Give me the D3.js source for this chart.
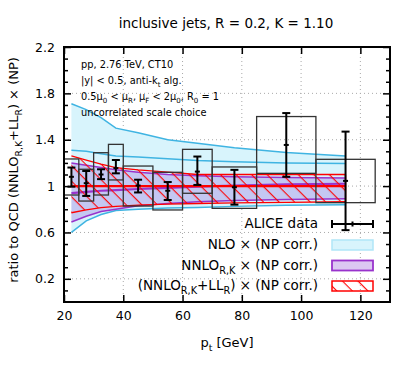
<!DOCTYPE html>
<html>
<head>
<meta charset="utf-8">
<script src="https://cdn.jsdelivr.net/npm/d3@7"></script>
<style>
body{margin:0;background:#fff;}
text{font-family:"DejaVu Sans",sans-serif;fill:#000;}
</style>
</head>
<body>
<svg width="415" height="368"></svg>
<script>
// ALICE bins (pt in GeV)
var binLo = [20, 25, 30, 35, 40, 50, 60, 70, 85, 105];
var binHi = [25, 30, 35, 40, 50, 60, 70, 85, 105, 125];
var ptCenter = [22.5, 27.5, 32.5, 37.5, 45, 55, 65, 77.5, 95, 115];

// data / theory ratio, stat and sys errors
var aliceVal = [1.08, 1.025, 1.10, 1.155, 1.005, 0.96, 1.125, 0.99, 1.355, 1.045];
var aliceStatLo = [0.995, 0.915, 1.06, 1.11, 0.945, 0.88, 1.01, 0.84, 1.08, 0.62];
var aliceStatHi = [1.16, 1.13, 1.145, 1.225, 1.055, 1.035, 1.255, 1.14, 1.63, 1.47];
var aliceSysLo = [0.923, 0.871, 0.923, 1.053, 0.828, 0.794, 0.938, 0.808, 1.11, 0.857];
var aliceSysHi = [1.234, 1.145, 1.288, 1.36, 1.173, 1.119, 1.317, 1.165, 1.60, 1.231];

// NLO x NP
var nloUp = [1.71, 1.66, 1.59, 1.50, 1.46, 1.40, 1.37, 1.33, 1.29, 1.26];
var nloMid = [1.31, 1.30, 1.28, 1.26, 1.25, 1.235, 1.22, 1.21, 1.20, 1.195];
var nloLo = [0.60, 0.70, 0.755, 0.79, 0.80, 0.81, 0.815, 0.825, 0.835, 0.84];

// NNLO_R,K x NP
var nnloUp = [1.20, 1.18, 1.16, 1.14, 1.12, 1.10, 1.09, 1.08, 1.075, 1.07];
var nnloMid = [0.94, 0.95, 0.96, 0.965, 0.975, 0.985, 0.995, 1.005, 1.015, 1.02];
var nnloLo = [0.69, 0.74, 0.78, 0.80, 0.83, 0.85, 0.865, 0.875, 0.885, 0.89];

// (NNLO_R,K + LL_R) x NP
var resUp = [1.26, 1.225, 1.19, 1.16, 1.14, 1.12, 1.10, 1.10, 1.10, 1.10];
var resMid = [1, 1, 1, 1, 1, 1, 1, 1, 1, 1];
var resLo = [0.77, 0.795, 0.815, 0.825, 0.835, 0.845, 0.85, 0.855, 0.86, 0.865];

var xTicks = [20, 40, 60, 80, 100, 120];
var yTicks = [0.2, 0.6, 1, 1.4, 1.8, 2.2];
var yMinor = [0.1, 0.3, 0.4, 0.5, 0.7, 0.8, 0.9, 1.1, 1.2, 1.3, 1.5, 1.6, 1.7, 1.9, 2.0, 2.1];

var svg = d3.select("svg");
var x = d3.scaleLinear().domain([20, 130]).range([64, 390]);
var y = d3.scaleLinear().domain([0, 2.2]).range([302, 47]);

function rich(sel, parts, fs){
	var wasSub = false;
	parts.forEach(function(p){
		var t = sel.append("tspan").text(p[0]);
		if(p[1]){
			t.attr("font-size", fs*0.72).attr("dy", wasSub ? 0 : fs*0.3);
			wasSub = true;
		} else {
			if(wasSub) t.attr("dy", -fs*0.3);
			wasSub = false;
		}
	});
}

var defs = svg.append("defs");
defs.append("pattern")
	.attr("id", "hatch")
	.attr("patternUnits", "userSpaceOnUse")
	.attr("width", 10).attr("height", 11)
	.attr("patternTransform", "rotate(45)")
	.append("line")
	.attr("x1", 0).attr("y1", 0.6).attr("x2", 10).attr("y2", 0.6)
	.style("stroke", "#ff0000").style("stroke-width", 1.1);

// grid
var grid = svg.append("g");
grid.selectAll(".gx").data(xTicks.slice(1)).enter().append("line")
	.attr("x1", function(d){ return x(d); }).attr("x2", function(d){ return x(d); })
	.attr("y1", y(0)).attr("y2", y(2.2));
grid.selectAll(".gy").data(yTicks.slice(0, 5)).enter().append("line")
	.attr("x1", x(20)).attr("x2", x(130))
	.attr("y1", function(d){ return y(d); }).attr("y2", function(d){ return y(d); });
grid.selectAll("line").style("stroke", "#aaa").style("stroke-width", 1).style("stroke-dasharray", "1,3");

function band(lo, hi){
	return d3.area()
		.x(function(d, i){ return x(ptCenter[i]); })
		.y0(function(d, i){ return y(lo[i]); })
		.y1(function(d, i){ return y(hi[i]); })(ptCenter);
}
function curve(v){
	return d3.line()
		.x(function(d, i){ return x(ptCenter[i]); })
		.y(function(d, i){ return y(v[i]); })(ptCenter);
}

// NLO
svg.append("path").attr("d", band(nloLo, nloUp)).style("fill", "#d8f4fc");
[nloUp, nloMid, nloLo].forEach(function(v){
	svg.append("path").attr("d", curve(v)).style("fill", "none")
		.style("stroke", "#3fb4e2").style("stroke-width", 1.5);
});

// NNLO_R,K
svg.append("path").attr("d", band(nnloLo, nnloUp)).style("fill", "rgba(150,95,220,0.3)");
[nnloUp, nnloLo].forEach(function(v){
	svg.append("path").attr("d", curve(v)).style("fill", "none")
		.style("stroke", "#9933cc").style("stroke-width", 1.5);
});
svg.append("path").attr("d", curve(nnloMid)).style("fill", "none")
	.style("stroke", "#9933cc").style("stroke-width", 2.2);

// NNLO + LL
svg.append("path").attr("d", band(resLo, resUp)).style("fill", "url(#hatch)");
[resUp, resLo].forEach(function(v){
	svg.append("path").attr("d", curve(v)).style("fill", "none")
		.style("stroke", "#ff0000").style("stroke-width", 1.3);
});
svg.append("line")
	.attr("x1", x(ptCenter[9])).attr("x2", x(ptCenter[9]))
	.attr("y1", y(resLo[9])).attr("y2", y(resUp[9]))
	.style("stroke", "#ff0000").style("stroke-width", 1.3);
svg.append("path").attr("d", curve(resMid)).style("fill", "none")
	.style("stroke", "#ff0000").style("stroke-width", 2.4);

// ALICE systematic boxes
svg.selectAll(".sys").data(ptCenter).enter().append("rect")
	.attr("x", function(d, i){ return x(binLo[i]); })
	.attr("width", function(d, i){ return x(binHi[i]) - x(binLo[i]); })
	.attr("y", function(d, i){ return y(aliceSysHi[i]); })
	.attr("height", function(d, i){ return y(aliceSysLo[i]) - y(aliceSysHi[i]); })
	.style("fill", "none").style("stroke", "#333").style("stroke-width", 1.3);

// ALICE points
var pts = svg.selectAll(".pt").data(ptCenter).enter().append("g");
pts.append("line")
	.attr("x1", function(d){ return x(d); }).attr("x2", function(d){ return x(d); })
	.attr("y1", function(d, i){ return y(aliceStatLo[i]); })
	.attr("y2", function(d, i){ return y(aliceStatHi[i]); });
pts.append("line")
	.attr("x1", function(d){ return x(d) - 4; }).attr("x2", function(d){ return x(d) + 4; })
	.attr("y1", function(d, i){ return y(aliceStatLo[i]); })
	.attr("y2", function(d, i){ return y(aliceStatLo[i]); });
pts.append("line")
	.attr("x1", function(d){ return x(d) - 4; }).attr("x2", function(d){ return x(d) + 4; })
	.attr("y1", function(d, i){ return y(aliceStatHi[i]); })
	.attr("y2", function(d, i){ return y(aliceStatHi[i]); });
pts.append("line")
	.attr("x1", function(d){ return x(d) - 2.5; }).attr("x2", function(d){ return x(d) + 2.5; })
	.attr("y1", function(d, i){ return y(aliceVal[i]); })
	.attr("y2", function(d, i){ return y(aliceVal[i]); });
pts.selectAll("line").style("stroke", "#000").style("stroke-width", 2);

// axes
function styleAxis(g){
	g.select(".domain").remove();
	g.selectAll(".tick line").style("stroke", "#000").style("stroke-width", 1.5);
	g.selectAll("text").style("font-family", "DejaVu Sans").style("font-size", "12.5px").style("fill", "#000");
}
svg.append("g").attr("transform", "translate(0," + y(0) + ")")
	.call(d3.axisBottom(x).tickValues(xTicks).tickSizeInner(-7).tickSizeOuter(0).tickPadding(9).tickFormat(d3.format("d")))
	.call(styleAxis);
svg.append("g").attr("transform", "translate(0," + y(2.2) + ")")
	.call(d3.axisTop(x).tickValues(xTicks).tickSizeInner(-7).tickSizeOuter(0).tickFormat(""))
	.call(styleAxis);
svg.append("g").attr("transform", "translate(" + x(20) + ",0)")
	.call(d3.axisLeft(y).tickValues(yTicks).tickSizeInner(-7).tickSizeOuter(0).tickPadding(9).tickFormat(d3.format("")))
	.call(styleAxis);
svg.append("g").attr("transform", "translate(" + x(20) + ",0)")
	.call(d3.axisLeft(y).tickValues(yMinor).tickSizeInner(-4).tickSizeOuter(0).tickFormat(""))
	.call(styleAxis);
svg.append("g").attr("transform", "translate(" + x(130) + ",0)")
	.call(d3.axisRight(y).tickValues(yTicks).tickSizeInner(-7).tickSizeOuter(0).tickFormat(""))
	.call(styleAxis);
svg.append("g").attr("transform", "translate(" + x(130) + ",0)")
	.call(d3.axisRight(y).tickValues(yMinor).tickSizeInner(-4).tickSizeOuter(0).tickFormat(""))
	.call(styleAxis);

svg.append("rect")
	.attr("x", x(20)).attr("y", y(2.2))
	.attr("width", x(130) - x(20)).attr("height", y(0) - y(2.2))
	.style("fill", "none").style("stroke", "#000").style("stroke-width", 2);

// titles
svg.append("text").attr("x", 226).attr("y", 28).attr("text-anchor", "middle")
	.style("font-size", "13.5px").text("inclusive jets, R = 0.2, K = 1.10");

rich(svg.append("text").attr("x", 227).attr("y", 347).attr("text-anchor", "middle").style("font-size", "13px"),
	[["p", 0], ["t", 1], [" [GeV]", 0]], 13);

rich(svg.append("text").attr("transform", "translate(18,170) rotate(-90)").attr("text-anchor", "middle").style("font-size", "13px"),
	[["ratio to QCD (NNLO", 0], ["R,K", 1], ["+LL", 0], ["R", 1], [") \u00d7 (NP)", 0]], 13);

// annotation
var notes = [
	[["pp, 2.76 TeV, CT10", 0]],
	[["|y| < 0.5, anti-k", 0], ["t", 1], [" alg.", 0]],
	[["0.5\u03bc", 0], ["0", 1], [" < \u03bc", 0], ["R", 1], [", \u03bc", 0], ["F", 1], [" < 2\u03bc", 0], ["0", 1], [", R", 0], ["0", 1], [" = 1", 0]],
	[["uncorrelated scale choice", 0]]
];
notes.forEach(function(n, i){
	rich(svg.append("text").attr("x", 81).attr("y", 68 + i*16).style("font-size", "9.8px"), n, 9.8);
});

// legend
var legY = [228, 249, 269.5, 290];
var legX = 318;
var legLabels = [
	[["ALICE data", 0]],
	[["NLO \u00d7 (NP corr.)", 0]],
	[["NNLO", 0], ["R,K", 1], [" \u00d7 (NP corr.)", 0]],
	[["(NNLO", 0], ["R,K", 1], ["+LL", 0], ["R", 1], [") \u00d7 (NP corr.)", 0]]
];
legLabels.forEach(function(l, i){
	rich(svg.append("text").attr("x", legX).attr("y", legY[i]).attr("text-anchor", "end").style("font-size", "13.5px"), l, 13.5);
});
var lg = svg.append("g");
lg.append("line").attr("x1", 332).attr("x2", 373).attr("y1", legY[0] - 4).attr("y2", legY[0] - 4);
lg.append("line").attr("x1", 332).attr("x2", 332).attr("y1", legY[0] - 8).attr("y2", legY[0]);
lg.append("line").attr("x1", 373).attr("x2", 373).attr("y1", legY[0] - 8).attr("y2", legY[0]);
lg.append("line").attr("x1", 352.5).attr("x2", 352.5).attr("y1", legY[0] - 6.5).attr("y2", legY[0] - 1.5);
lg.selectAll("line").style("stroke", "#000").style("stroke-width", 2);
svg.append("rect").attr("x", 332).attr("y", legY[1] - 9).attr("width", 41).attr("height", 10)
	.style("fill", "#d8f4fc").style("stroke", "#b0e6f8").style("stroke-width", 1.5);
svg.append("rect").attr("x", 332).attr("y", legY[2] - 9).attr("width", 41).attr("height", 10)
	.style("fill", "#dcc8f2").style("stroke", "#9933cc").style("stroke-width", 1.8);
svg.append("rect").attr("x", 332).attr("y", legY[3] - 9).attr("width", 41).attr("height", 10)
	.style("fill", "url(#hatch)").style("stroke", "#ff0000").style("stroke-width", 1.5);
</script>
</body>
</html>
